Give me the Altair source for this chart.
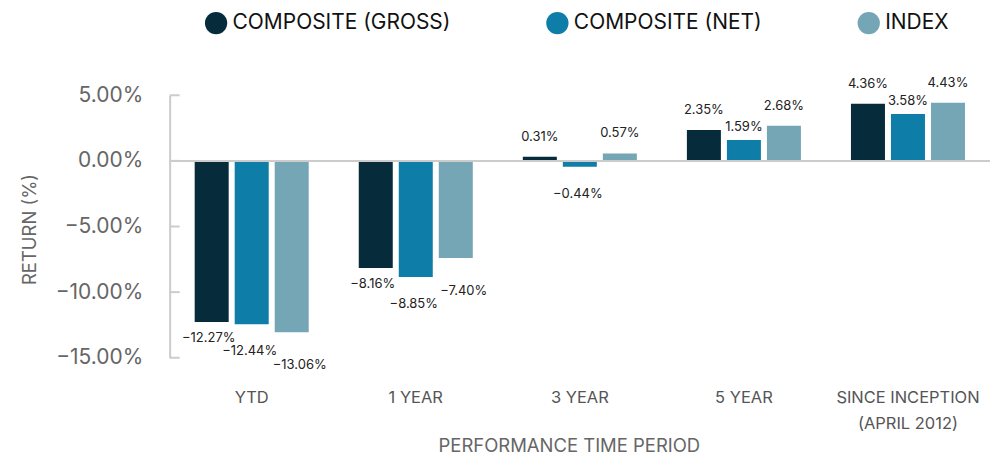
import altair as alt
import pandas as pd

periods = ["YTD", "1 YEAR", "3 YEAR", "5 YEAR", "SINCE INCEPTION\n(APRIL 2012)"]
series = ["COMPOSITE (GROSS)", "COMPOSITE (NET)", "INDEX"]
gross = [-12.27, -8.16, 0.31, 2.35, 4.36]
net = [-12.44, -8.85, -0.44, 1.59, 3.58]
index = [-13.06, -7.40, 0.57, 2.68, 4.43]
y_ticks = [5, 0, -5, -10, -15]

colors = ["#062C3B", "#0E7EA8", "#75A6B6"]
FONT = "Inter"

rows = []
for s, vals in zip(series, [gross, net, index]):
    for p, v in zip(periods, vals):
        rows.append({"period": p, "series": s, "v": v})
df = pd.DataFrame(rows)

x_enc = alt.X(
    "period:N",
    sort=periods,
    scale=alt.Scale(paddingInner=0.305, paddingOuter=0.1525),
    axis=alt.Axis(
        title="PERFORMANCE TIME PERIOD",
        domain=False,
        ticks=False,
        labelAngle=0,
        labelPadding=32,
        labelFontSize=16.5,
        labelColor="#555555",
        labelLineHeight=26,
        labelExpr="split(datum.label, '\\n')",
        titleFontSize=18.5,
        titleFontWeight="normal",
        titleColor="#666666",
        titleBaseline="middle",
        titleAlign="center",
        titleX=400,
        titleY=88,
    ),
)
xoff_enc = alt.XOffset(
    "series:N", sort=series, scale=alt.Scale(domain=series, paddingInner=0.15)
)
y_scale = alt.Scale(domain=[-15, 5], nice=False, zero=True)

bars = alt.Chart(df).mark_bar().encode(
    x=x_enc,
    xOffset=xoff_enc,
    y=alt.Y(
        "v:Q",
        scale=y_scale,
        axis=alt.Axis(
            title="RETURN (%)",
            values=y_ticks,
            grid=False,
            ticks=False,
            domain=True,
            domainColor="#cccccc",
            domainWidth=2,
            labelFontSize=21,
            labelColor="#666666",
            labelPadding=27,
            labelExpr="format(datum.value, '.2f') + '%'",
            titleFontSize=18.5,
            titleFontWeight="normal",
            titleColor="#666666",
            titleX=-140,
            titleY=134,
            titleAngle=270,
            titleAlign="center",
            titleBaseline="middle",
        ),
    ),
    color=alt.Color(
        "series:N",
        sort=series,
        scale=alt.Scale(domain=series, range=colors),
        legend=alt.Legend(
            title=None,
            orient="none",
            direction="horizontal",
            legendX=35,
            legendY=-84,
            symbolType="circle",
            symbolSize=500,
            symbolStrokeWidth=0,
            labelFontSize=21,
            labelColor="#111111",
            labelOffset=5,
            columnPadding=95,
            labelLimit=400,
        ),
    ),
)

zero_df = pd.DataFrame({"v": [0]})
zero_line = alt.Chart(zero_df).mark_rule(color="#cccccc", strokeWidth=2).encode(
    y=alt.Y("v:Q", scale=y_scale)
)
tick_df = pd.DataFrame({"v": y_ticks})
ticks = alt.Chart(tick_df).mark_rule(color="#cccccc", strokeWidth=2).encode(
    y=alt.Y("v:Q", scale=y_scale), x=alt.value(0), x2=alt.value(10)
)

# (dy for positive, dy for negative, dx for negative)
offsets = {
    "COMPOSITE (GROSS)": (-20, 16, -3),
    "COMPOSITE (NET)": (-13, 27, -2),
    "INDEX": (-20, 33, 8),
}
text_layers = []
for s in series:
    pos_dy, neg_dy, neg_dx = offsets[s]
    for cond, dy, dx in [("datum.v >= 0", pos_dy, 0), ("datum.v < 0", neg_dy, neg_dx)]:
        t = (
            alt.Chart(df)
            .transform_filter(f"datum.series == '{s}' && {cond}")
            .transform_calculate(lbl="format(datum.v, '.2f') + '%'")
            .mark_text(fontSize=13, color="#222222", baseline="middle", dy=dy, dx=dx)
            .encode(x=x_enc, xOffset=xoff_enc, y=alt.Y("v:Q", scale=y_scale), text="lbl:N")
        )
        text_layers.append(t)

chart = (
    alt.layer(bars, zero_line, ticks, *text_layers)
    .properties(
        width=822,
        height=263,
        autosize=alt.AutoSizeParams(type="none"),
        padding={"left": 162, "top": 87, "right": 0, "bottom": 100},
    )
    .configure(font=FONT)
    .configure_view(stroke=None)
)

chart.save("out.html", embed_options={"renderer": "svg", "actions": False})
